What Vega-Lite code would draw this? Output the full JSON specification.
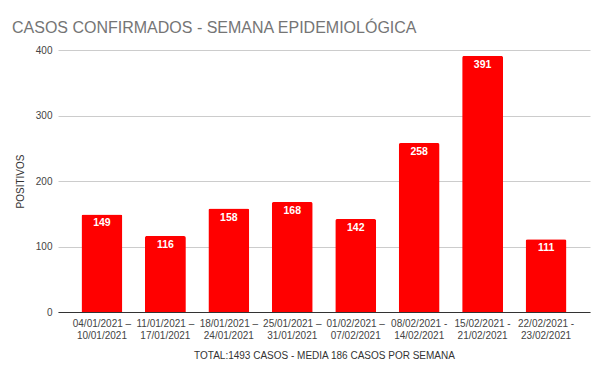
{
  "$schema": "https://vega.github.io/schema/vega-lite/v6.json",
  "width": 532,
  "height": 262,
  "autosize": {"type": "none"},
  "padding": {"left": 58, "top": 50, "right": 10, "bottom": 59},
  "background": "white",
  "title": {
    "text": "CASOS CONFIRMADOS - SEMANA EPIDEMIOLÓGICA",
    "anchor": "start",
    "frame": "group",
    "dx": -46,
    "dy": 26,
    "offset": 22,
    "baseline": "alphabetic",
    "font": "Liberation Sans",
    "fontSize": 16,
    "fontWeight": "normal",
    "color": "#757575"
  },
  "config": {
    "view": {"stroke": null},
    "font": "Liberation Sans"
  },
  "data": {
    "values": [
      {"semana": "04/01/2021 –\n10/01/2021", "ordem": 1, "positivos": 149},
      {"semana": "11/01/2021 –\n17/01/2021", "ordem": 2, "positivos": 116},
      {"semana": "18/01/2021 –\n24/01/2021", "ordem": 3, "positivos": 158},
      {"semana": "25/01/2021 –\n31/01/2021", "ordem": 4, "positivos": 168},
      {"semana": "01/02/2021 –\n07/02/2021", "ordem": 5, "positivos": 142},
      {"semana": "08/02/2021 -\n14/02/2021", "ordem": 6, "positivos": 258},
      {"semana": "15/02/2021 -\n21/02/2021", "ordem": 7, "positivos": 391},
      {"semana": "22/02/2021 -\n23/02/2021", "ordem": 8, "positivos": 111}
    ]
  },
  "encoding": {
    "x": {
      "field": "semana",
      "type": "nominal",
      "sort": {"field": "ordem"},
      "scale": {"paddingInner": 0.355, "paddingOuter": 0.37},
      "title": "TOTAL:1493 CASOS - MEDIA 186 CASOS POR SEMANA",
      "axis": {
        "labelAngle": 0,
        "labelExpr": "split(datum.value, '\\n')",
        "labelFontSize": 10,
        "labelLineHeight": 12,
        "labelColor": "#444444",
        "labelPadding": 6,
        "ticks": false,
        "domainColor": "#333333",
        "domainWidth": 1,
        "titleFontSize": 10,
        "titleFontWeight": "normal",
        "titleColor": "#333333",
        "titlePadding": 10
      }
    },
    "y": {
      "field": "positivos",
      "type": "quantitative",
      "scale": {"domain": [0, 400]},
      "title": "POSITIVOS",
      "axis": {
        "values": [0, 100, 200, 300, 400],
        "labelFontSize": 10,
        "labelColor": "#444444",
        "labelPadding": 6,
        "ticks": false,
        "domain": false,
        "gridColor": "#cccccc",
        "titleFontSize": 10,
        "titleFontWeight": "normal",
        "titleColor": "#333333",
        "titlePadding": 10
      }
    }
  },
  "layer": [
    {
      "mark": {"type": "bar", "color": "#ff0000", "cornerRadiusTopLeft": 2, "cornerRadiusTopRight": 2}
    },
    {
      "mark": {"type": "text", "color": "white", "fontWeight": "bold", "fontSize": 10.5, "baseline": "top", "dy": 4},
      "encoding": {"text": {"field": "positivos", "type": "quantitative"}}
    }
  ]
}
